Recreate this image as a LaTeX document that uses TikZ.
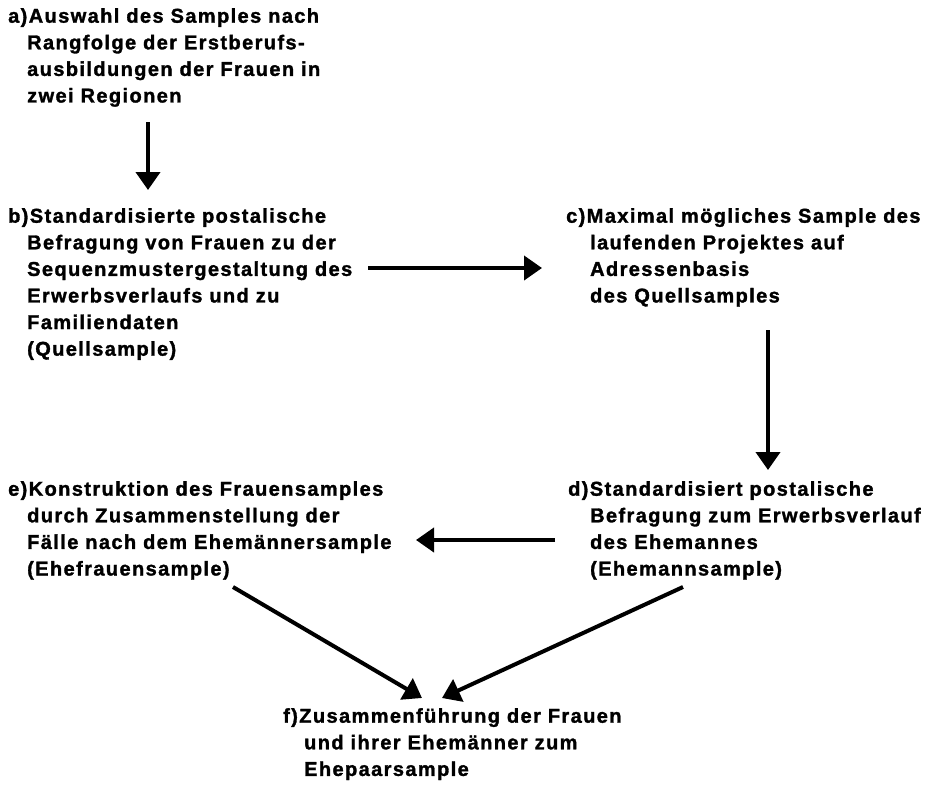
\documentclass[tikz,border=0pt]{standalone}
\usepackage{fontspec}
\setmainfont{Liberation Sans}[LetterSpace=7,BoldFeatures={FakeBold=1.5}]
\usetikzlibrary{arrows.meta}
\newcommand{\ein}[1][19pt]{\hspace*{#1}}
\begin{document}
\begin{tikzpicture}[x=1pt,y=-1pt,
	schritt/.style={anchor=north west,align=left,inner sep=0pt,font=\bfseries\fontsize{20}{26.6}\selectfont},
	pfeil/.style={-{Triangle[length=18pt,width=24pt]},line width=4pt}]
		\useasboundingbox (0,0) rectangle (930,785);
		\node[schritt](a) at (8,8){a)Auswahl des Samples nach\\\ein Rangfolge der Erstberufs-\\\ein ausbildungen der Frauen in\\\ein zwei Regionen};
		\node[schritt](b) at (8,208){b)Standardisierte postalische\\\ein Befragung von Frauen zu der\\\ein Sequenzmustergestaltung des\\\ein Erwerbsverlaufs und zu\\\ein Familiendaten\\\ein (Quellsample)};
		\node[schritt](c) at (566,208){c)Maximal mögliches Sample des\\\ein[17pt] laufenden Projektes auf\\\ein[17pt] Adressenbasis\\\ein[17pt] des Quellsamples};
		\node[schritt](d) at (568,481){d)Standardisiert postalische\\\ein[15pt] Befragung zum Erwerbsverlauf\\\ein[15pt] des Ehemannes\\\ein[15pt] (Ehemannsample)};
		\node[schritt](e) at (8,481){e)Konstruktion des Frauensamples\\\ein durch Zusammenstellung der\\\ein Fälle nach dem Ehemännersample\\\ein (Ehefrauensample)};
		\node[schritt](f) at (283,708){f)Zusammenführung der Frauen\\\ein[14pt] und ihrer Ehemänner zum\\\ein[14pt] Ehepaarsample};
		\draw[pfeil]([shift={(140,114)}]a.north west)--([shift={(140,-18)}]b.north west);
		\draw[pfeil]([shift={(360,60)}]b.north west)--([shift={(-24,60)}]c.north west);
		\draw[pfeil]([shift={(202,122)}]c.north west)--([shift={(200,-11)}]d.north west);
		\draw[pfeil]([shift={(-13,59)}]d.north west)--([shift={(408,59)}]e.north west);
		\draw[pfeil]([shift={(225,106)}]e.north west)--([shift={(139,-10)}]f.north west);
		\draw[pfeil]([shift={(115,106)}]d.north west)--([shift={(159,-10)}]f.north west);
	\end{tikzpicture}
\end{document}
